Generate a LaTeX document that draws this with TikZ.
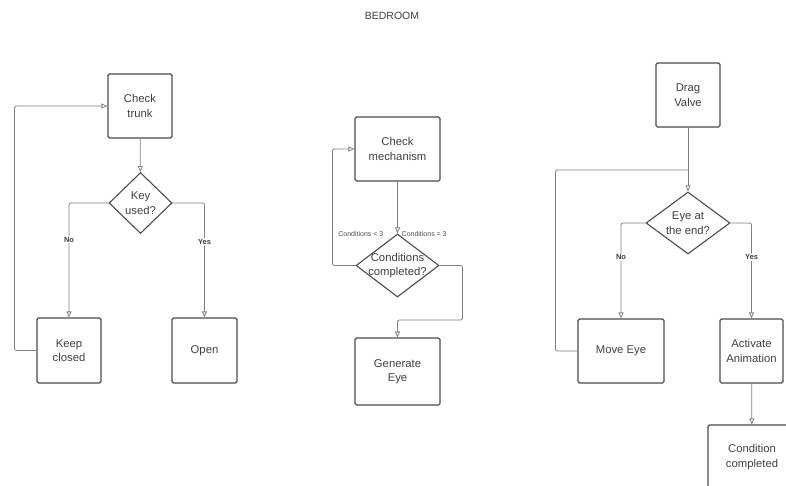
\documentclass[tikz,border=0pt]{standalone}
\usepackage{fontspec}
\setmainfont{Liberation Sans}
\usetikzlibrary{shapes.geometric,arrows.meta}
\newcommand{\reponse}[1]{\textcolor{black!75}{\bfseries #1}}

\begin{document}
\begin{tikzpicture}[x=1pt,y=-1pt,
  boite/.style={draw=black!70,line width=1.1pt,rounded corners=1.5pt,align=center,
    text=black!75,font=\fontsize{11.3}{14.5}\selectfont,inner sep=0pt},
  test/.style={draw=black!70,line width=1.1pt,shape=diamond,inner sep=0pt},
  fleche/.style={draw=black!50,line width=0.8pt,rounded corners=2pt,
    -{Triangle[open,length=6pt,width=5pt]}},
  ligne/.style={draw=black!50,line width=0.8pt,rounded corners=2pt},
  oui/.style={fill=white,inner sep=1pt,font=\fontsize{7.5}{9}\selectfont},
  petit/.style={text=black!70,inner sep=0pt,font=\fontsize{7}{8}\selectfont}]
\useasboundingbox (0,0) rectangle (786,486);
\node[text=black!75,font=\fontsize{10.5}{12}\selectfont] (titre) at (392,16) {BEDROOM};
% coffre
\node[boite,minimum width=64pt,minimum height=64pt] (trunk) at (140,106) {Check\\trunk};
\node[test,minimum width=63pt,minimum height=61pt,
  label={[boite,draw=none]center:Key\\used?}] (key) at (140.5,203) {};
\node[boite,minimum width=64pt,minimum height=65pt] (closed) at (69,350.5) {Keep\\closed};
\node[boite,minimum width=65pt,minimum height=65pt] (open) at (204.5,350.5) {Open};
\draw[fleche] (trunk) -- (key);
\draw[fleche] (key.west) -| node[oui,pos=0.66] {\reponse{No}} (closed.north);
\draw[fleche] (key.east) -| node[oui,pos=0.67] {\reponse{Yes}} (open.north);
\draw[fleche] (closed.west) -- ++(-22,0) |- (trunk.west);
% mecanisme
\node[boite,minimum width=85pt,minimum height=64pt] (mech) at (397.5,149) {Check\\mechanism};
\node[test,minimum width=83pt,minimum height=63pt,
  label={[boite,draw=none]center:Conditions\\completed?}] (cnd) at (397.5,265.5) {};
\node[boite,minimum width=85pt,minimum height=67pt] (gen) at (397.5,371.5) {Generate\\Eye};
\draw[fleche] (mech) -- (cnd);
\draw[fleche] (cnd.west) -- ++(-23,0) |- (mech.west);
\draw[fleche] (cnd.east) -- ++(23,0) -- ++(0,54.5) -| (gen.north);
\node[petit,anchor=east] (moins) at ([xshift=-14pt,yshift=-1pt]cnd.north) {Conditions < 3};
\node[petit,anchor=west] (egal) at ([xshift=4pt,yshift=-1pt]cnd.north) {Conditions = 3};
% valve
\node[boite,minimum width=64pt,minimum height=64pt] (valve) at (688,95) {Drag\\Valve};
\node[test,minimum width=84pt,minimum height=62pt,
  label={[boite,draw=none]center:Eye at\\the end?}] (eye) at (688,223) {};
\node[boite,minimum width=86pt,minimum height=64pt] (move) at (621,351) {Move Eye};
\node[boite,minimum width=63pt,minimum height=64pt] (anim) at (751.5,351) {Activate\\Animation};
\node[boite,minimum width=88pt,minimum height=64pt] (cond) at (752,457) {Condition\\completed};
\coordinate (j) at (688,170);
\draw[fleche] (valve) -- (eye);
\draw[ligne] (move.west) -- ++(-22,0) |- (j);
\draw[fleche] (eye.west) -| node[oui,pos=0.68] {\reponse{No}} (move.north);
\draw[fleche] (eye.east) -| node[oui,pos=0.68] {\reponse{Yes}} (anim.north);
\draw[fleche] (anim) -- (cond);
\end{tikzpicture}
\end{document}
